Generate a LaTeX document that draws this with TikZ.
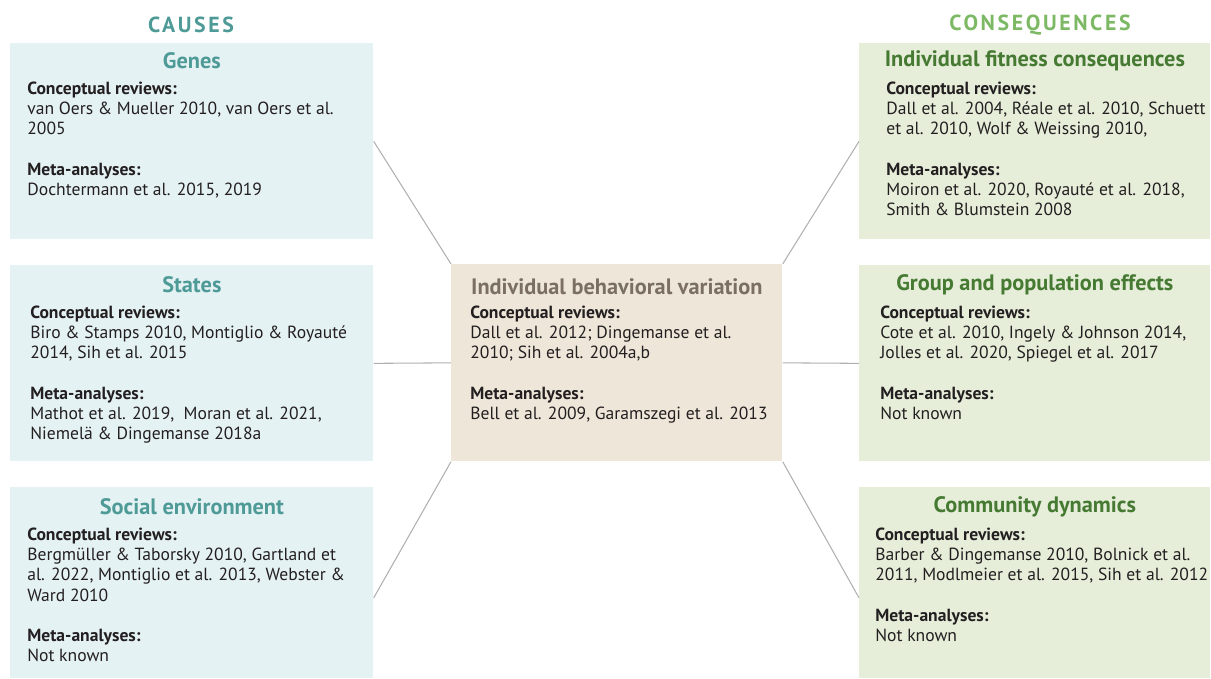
\documentclass[tikz,border=0pt]{standalone}
\usepackage{fontspec}
\setmainfont{PT Sans}
\usetikzlibrary{positioning}
\definecolor{causeteal}{HTML}{4E9A97}
\definecolor{causefill}{HTML}{E5F2F4}
\definecolor{conlight}{HTML}{7DB964}
\definecolor{condark}{HTML}{467A33}
\definecolor{confill}{HTML}{E6EEDA}
\definecolor{midfill}{HTML}{EEE7D9}
\definecolor{midtitle}{HTML}{7B6F63}
\definecolor{bodytext}{HTML}{231F20}
\definecolor{linkgray}{HTML}{B0B0B0}
\newcommand\revlist[2]{\textbf{Conceptual reviews:}\\#1\\[11.4pt]\textbf{Meta-analyses:}\\#2}
\begin{document}
\begin{tikzpicture}[
  box/.style={minimum width=7.26cm, minimum height=3.92cm, inner sep=0, anchor=north west},
  causebox/.style={box, fill=causefill},
  conbox/.style={box, fill=confill, minimum width=7.02cm},
  midbox/.style={box, fill=midfill, minimum width=6.62cm, minimum height=3.94cm},
  boxtitle/.style={font=\bfseries\fontsize{12.7}{14}\selectfont, inner sep=0},
  body/.style={anchor=north west, inner sep=0, align=left, text=bodytext, font=\fontsize{10}{11.4}\selectfont},
  header/.style={font=\bfseries\fontsize{12.4}{14}\selectfont\addfontfeature{LetterSpace=12}},
  link/.style={draw=linkgray, line width=0.6pt}]
\useasboundingbox (0,0) rectangle (24.22,-13.58);

% headers
\node[header, text=causeteal] (causes) at (3.82,-0.5) {CAUSES};
\node[header, text=conlight] (consequences) at (20.8,-0.5) {CONSEQUENCES};

% boxes
\node[causebox] (genes) at (0.2,-0.86) {};
\node[causebox] (states) at (0.2,-5.3) {};
\node[causebox, minimum height=3.82cm] (social) at (0.2,-9.74) {};
\node[midbox] (indiv) at (9.02,-5.28) {};
\node[conbox] (fitness) at (17.18,-0.86) {};
\node[conbox] (group) at (17.18,-5.3) {};
\node[conbox, minimum height=3.82cm] (community) at (17.18,-9.74) {};

% links
\draw[link] (genes.east) -- (indiv.north west);
\draw[link] (states.east) -- (indiv.west);
\draw[link] ([yshift=-0.3cm]social.east) -- (indiv.south west);
\draw[link] (fitness.west) -- (indiv.north east);
\draw[link] (group.west) -- (indiv.east);
\draw[link] ([yshift=-0.3cm]community.west) -- (indiv.south east);

% titles
\node[boxtitle, text=causeteal] (genes title) at ([yshift=-0.36cm]genes.north) {Genes};
\node[boxtitle, text=causeteal] (states title) at ([yshift=-0.4cm]states.north) {States};
\node[boxtitle, text=causeteal] (social title) at ([yshift=-0.4cm]social.north) {Social environment};
\node[boxtitle, text=midtitle] (indiv title) at ([yshift=-0.46cm]indiv.north) {Individual behavioral variation};
\node[boxtitle, text=condark] (fitness title) at ([yshift=-0.36cm]fitness.north) {Individual fitness consequences};
\node[boxtitle, text=condark] (group title) at ([yshift=-0.4cm]group.north) {Group and population effects};
\node[boxtitle, text=condark] (community title) at ([yshift=-0.4cm]community.north) {Community dynamics};

% reviews
\node[body] (genes text) at ([xshift=0.34cm, yshift=-0.78cm]genes.north west)
  {\revlist{van Oers \& Mueller 2010, van Oers et al.\\2005}{Dochtermann et al. 2015, 2019}};
\node[body] (states text) at ([xshift=0.4cm, yshift=-0.82cm]states.north west)
  {\revlist{Biro \& Stamps 2010, Montiglio \& Royauté\\2014, Sih et al. 2015}{Mathot et al. 2019,\ \ Moran et al. 2021,\\Niemelä \& Dingemanse 2018a}};
\node[body] (social text) at ([xshift=0.34cm, yshift=-0.82cm]social.north west)
  {\revlist{Bergmüller \& Taborsky 2010, Gartland et\\al. 2022, Montiglio et al. 2013, Webster \&\\Ward 2010}{Not known}};
\node[body] (indiv text) at ([xshift=0.38cm, yshift=-0.84cm]indiv.north west)
  {\revlist{Dall et al. 2012; Dingemanse et al.\\2010; Sih et al. 2004a,b}{Bell et al. 2009, Garamszegi et al. 2013}};
\node[body] (fitness text) at ([xshift=0.54cm, yshift=-0.78cm]fitness.north west)
  {\revlist{Dall et al. 2004, Réale et al. 2010, Schuett\\et al. 2010, Wolf \& Weissing 2010,}{Moiron et al. 2020, Royauté et al. 2018,\\Smith \& Blumstein 2008}};
\node[body] (group text) at ([xshift=0.42cm, yshift=-0.82cm]group.north west)
  {\revlist{Cote et al. 2010, Ingely \& Johnson 2014,\\Jolles et al. 2020, Spiegel et al. 2017}{Not known}};
\node[body] (community text) at ([xshift=0.32cm, yshift=-0.82cm]community.north west)
  {\revlist{Barber \& Dingemanse 2010, Bolnick et al.\\2011, Modlmeier et al. 2015, Sih et al. 2012}{Not known}};
\end{tikzpicture}
\end{document}
